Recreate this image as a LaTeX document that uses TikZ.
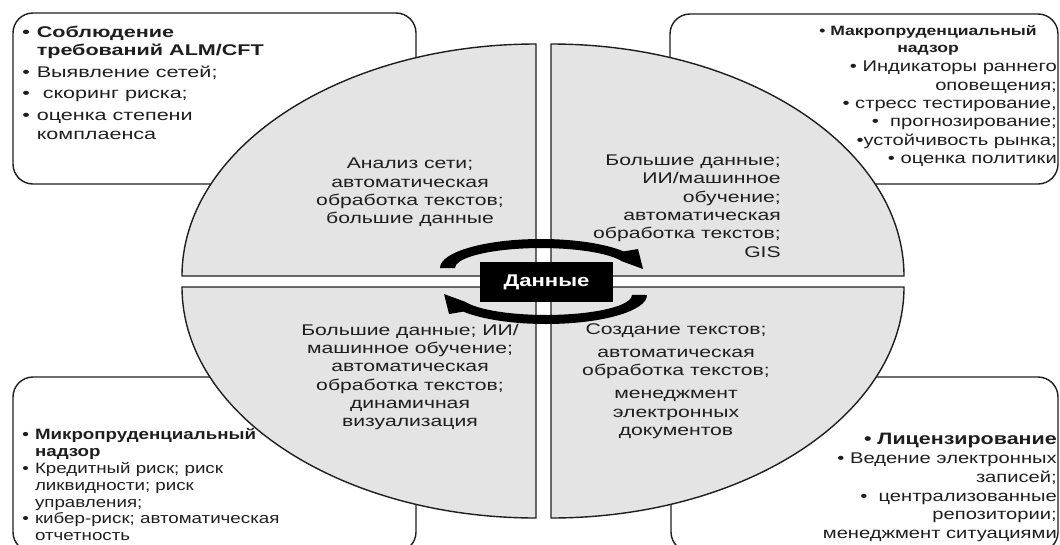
\documentclass[tikz,border=0pt]{standalone}
\usepackage{fontspec}
\setmainfont{Liberation Sans}
\definecolor{quadgray}{HTML}{E4E4E4}
\definecolor{inkgray}{HTML}{1E1E1E}
\tikzset{
  quad/.style={fill=quadgray, draw=inkgray, line width=1.4pt},
  infobox/.style={draw=inkgray, line width=1.4pt, rounded corners=20pt},
  txt/.style={font=\fontsize{15.5}{18.3}\selectfont, text=inkgray, xscale=1.3, inner sep=0pt},
  quadtxt/.style={txt, xscale=1.05},
  smalltxt/.style={font=\fontsize{13.5}{17}\selectfont\bfseries, text=inkgray, xscale=1.3, inner sep=0pt},
  databox/.style={fill=black, text=white, font=\fontsize{17}{18}\selectfont\bfseries,
    xscale=1.3, minimum width=102pt, minimum height=40pt, inner sep=0pt},
  arrowfill/.style={fill=black}
}
\begin{document}
\begin{tikzpicture}[x=1pt, y=-1pt]
\useasboundingbox (0,0) rectangle (1060,544);
\clip (0,0) rectangle (1060,544);
% corner boxes
\draw[infobox] (13,13) rectangle (416,184);
\draw[infobox] (670,14) rectangle (1058,184);
\draw[infobox] (13,377) rectangle (416,552);
\draw[infobox] (671,377) rectangle (1058,552);
% four quarters
\draw[quad] (536,276) -- (182,276) arc[start angle=180, end angle=270, x radius=354, y radius=232] -- cycle;
\draw[quad] (551,276) -- (551,44) arc[start angle=270, end angle=360, x radius=353, y radius=232] -- cycle;
\draw[quad] (551,287) -- (904,287) arc[start angle=0, end angle=90, x radius=353, y radius=231] -- cycle;
\draw[quad] (536,287) -- (536,518) arc[start angle=90, end angle=180, x radius=354, y radius=231] -- cycle;
% circling arrows
\fill[arrowfill] (440,268) arc[start angle=180, end angle=325, x radius=101, y radius=29]
  -- (638,249) -- (643,269) -- (621.8,261.2)
  arc[start angle=340, end angle=180, x radius=86, y radius=20] -- cycle;
\begin{scope}[rotate around={180:(543.5,281.5)}]
\fill[arrowfill] (440,268) arc[start angle=180, end angle=325, x radius=101, y radius=29]
  -- (638,249) -- (643,269) -- (621.8,261.2)
  arc[start angle=340, end angle=180, x radius=86, y radius=20] -- cycle;
\end{scope}
\node[databox] (data) at (546.5,282) {Данные};
% quarter texts
\node[quadtxt, align=center] (qtl) at (410,192.5) {Анализ сети;\\автоматическая\\обработка текстов;\\большие данные};
\node[quadtxt, align=right, anchor=east] (qtr) at (781,206) {Большие данные;\\ИИ/машинное\\обучение;\\автоматическая\\обработка текстов;\\GIS};
\node[quadtxt, align=center] (qbl) at (410,377) {Большие данные; ИИ/\\машинное обучение;\\автоматическая\\обработка текстов;\\динамичная\\визуализация};
\node[quadtxt, align=center] (qbr) at (676,381) {Создание текстов;\\[5pt]автоматическая\\обработка текстов;\\[5pt]менеджмент\\электронных\\документов};
% box texts
\node[txt, xscale=1.07, anchor=north west] (alm) at (22,24) {\begin{tabular}{@{}l@{\hspace{5pt}}l@{}}
\textbf{•} & \textbf{Соблюдение}\\
 & \textbf{требований ALM/CFT}\\[3.5pt]
• & Выявление сетей;\\[3.5pt]
• & \ скоринг риска;\\[3.5pt]
• & оценка степени\\
 & комплаенса
\end{tabular}};
\node[smalltxt, align=center] (macro) at (928,40) {• Макропруденциальный\\надзор};
\node[txt, align=right, anchor=north east] (macrolist) at (1057,61) {• Индикаторы раннего\\оповещения;\\• стресс тестирование,\\•\ \ прогнозирование;\\•устойчивость рынка;\\• оценка политики};
\node[txt, font=\fontsize{15}{16.8}\selectfont, xscale=0.96, anchor=north west] (micro) at (22,428) {\begin{tabular}{@{}l@{\hspace{5pt}}l@{}}
\textbf{•} & \textbf{Микропруденциальный}\\
 & \textbf{надзор}\\
• & Кредитный риск; риск\\
 & ликвидности; риск\\
 & управления;\\
• & кибер-риск; автоматическая\\
 & отчетность
\end{tabular}};
\node[txt, align=right, anchor=north east] (licence) at (1057,433) {\textbf{\fontsize{16.5}{18.3}\selectfont• Лицензирование}\\[1pt]• Ведение электронных\\записей;\\[1pt]•\ \ централизованные\\репозитории;\\менеджмент ситуациями};
\end{tikzpicture}
\end{document}
